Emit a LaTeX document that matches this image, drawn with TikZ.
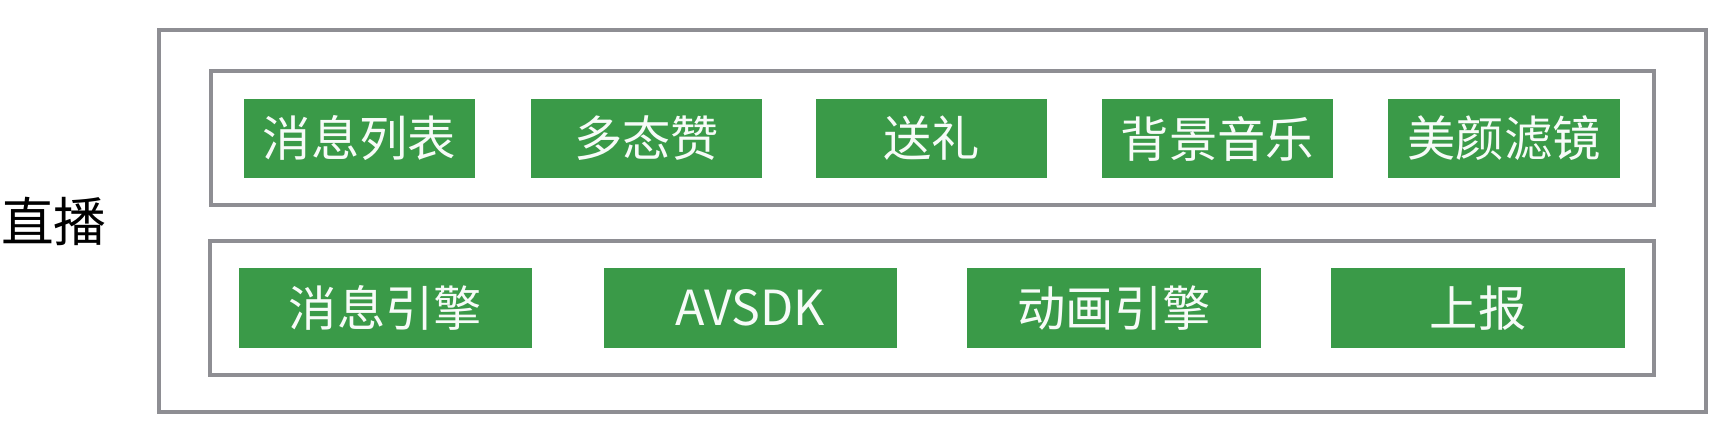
\documentclass[tikz,border=0pt]{standalone}
\usepackage{fontspec}
\newfontfamily\cjk{Noto Sans CJK SC}
\definecolor{ModClr}{RGB}{58,154,72}
\definecolor{FrameClr}{RGB}{142,142,147}
\tikzset{
  frame/.style={draw=FrameClr,line width=2.6pt},
  modbox/.style={fill=ModClr,text=white!96!ModClr,inner sep=0pt,
    minimum height=1.59cm,font=\cjk\fontsize{27.5}{27.5}\selectfont},
  upper/.style={modbox,minimum width=4.64cm},
  lower/.style={modbox,minimum width=5.88cm}
}

\begin{document}
\begin{tikzpicture}[x=0.02cm,y=-0.02cm]
\useasboundingbox (0,0) rectangle (1730,444);

\draw[frame] (159,30) rectangle (1706,412);
\draw[frame] (211,71) rectangle (1654,205);
\draw[frame] (210,241) rectangle (1654,375);

\node[font=\cjk\fontsize{30}{30}\selectfont] (live) at (54,221) {直播};

\node[upper] (msglist) at (359.5,138.5) {消息列表};
\node[upper] (like)    at (646.5,138.5) {多态赞};
\node[upper] (gift)    at (931.5,138.5) {送礼};
\node[upper] (music)   at (1217.5,138.5) {背景音乐};
\node[upper] (beauty)  at (1504,138.5) {美颜滤镜};

\node[lower] (msgeng)  at (385.5,308) {消息引擎};
\node[lower] (avsdk)   at (750.5,308) {AVSDK};
\node[lower] (animeng) at (1114,308) {动画引擎};
\node[lower] (report)  at (1478,308) {上报};

\end{tikzpicture}
\end{document}
